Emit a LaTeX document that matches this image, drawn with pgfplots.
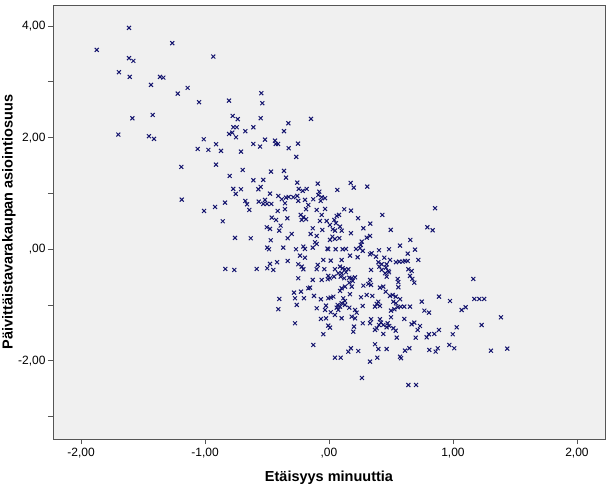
\documentclass[border=0pt]{standalone}
\usepackage{pgfplots}
\pgfplotsset{compat=1.18}
\usepackage{pgfplotstable}
\usepackage{fontspec}
\setmainfont{Liberation Sans}
\definecolor{markc}{RGB}{20,20,110}
\definecolor{framec}{RGB}{85,85,85}
\definecolor{bgc}{RGB}{240,240,240}
\pgfplotstableread{
x y
-1.613 3.966
-1.264 3.692
-1.873 3.572
-1.613 3.423
-1.578 3.375
-0.933 3.452
-1.694 3.172
-1.607 3.088
-1.363 3.088
-1.336 3.075
-1.435 2.945
-1.220 2.789
-1.140 2.891
-1.048 2.634
-1.586 2.348
-1.422 2.407
-1.699 2.054
-1.452 2.025
-1.411 1.977
-1.010 1.971
-1.059 1.797
-0.973 1.780
-1.191 1.475
-1.188 0.889
-1.008 0.686
-0.546 2.796
-0.538 2.616
-0.806 2.663
-0.777 2.389
-0.736 2.330
-0.551 2.348
-0.772 2.186
-0.744 2.186
-0.806 2.066
-0.780 2.090
-0.750 2.007
-0.675 2.115
-0.610 2.186
-0.363 2.115
-0.328 2.258
-0.911 1.882
-0.871 1.762
-0.710 1.749
-0.610 1.887
-0.556 1.839
-0.516 1.964
-0.435 1.946
-0.430 1.887
-0.411 1.887
-0.325 1.810
-0.911 1.516
-0.696 1.421
-0.801 1.314
-0.468 1.391
-0.363 1.403
-0.347 1.283
-0.610 1.237
-0.530 1.242
-0.772 1.081
-0.710 1.075
-0.752 0.991
-0.570 1.075
-0.551 1.116
-0.476 0.996
-0.409 0.955
-0.381 0.896
-0.347 0.925
-0.325 0.937
-0.919 0.758
-0.839 0.835
-0.675 0.866
-0.661 0.806
-0.643 0.704
-0.567 0.853
-0.516 0.884
-0.530 0.812
-0.500 0.812
-0.465 0.812
-0.355 0.824
-0.414 0.686
-0.355 0.717
-0.857 0.502
-0.462 0.566
-0.427 0.525
-0.336 0.556
-0.502 0.394
-0.476 0.364
-0.390 0.423
-0.401 0.333
-0.758 0.203
-0.631 0.197
-0.470 0.161
-0.333 0.197
-0.498 0.029
-0.484 0.000
-0.369 0.029
-0.333 -0.210
-0.476 -0.263
-0.419 -0.233
-0.836 -0.353
-0.764 -0.371
-0.583 -0.353
-0.498 -0.341
-0.449 -0.371
-0.401 -0.891
-0.409 -1.075
-0.145 2.335
-0.250 1.892
-0.264 1.654
-0.256 1.194
-0.091 1.176
0.175 1.188
0.199 1.104
0.067 1.063
-0.244 1.081
-0.212 1.045
-0.180 1.081
-0.256 0.955
-0.288 0.932
-0.078 1.032
-0.086 0.973
-0.059 0.932
-0.032 0.914
-0.127 0.896
-0.194 0.884
-0.248 0.866
-0.067 0.866
-0.167 0.794
-0.185 0.717
-0.099 0.704
-0.032 0.722
0.123 0.717
0.177 0.692
-0.228 0.615
-0.207 0.573
-0.059 0.615
0.062 0.597
0.081 0.615
0.234 0.556
-0.220 0.525
-0.185 0.538
-0.073 0.507
-0.019 0.507
0.043 0.525
0.056 0.466
0.008 0.435
0.089 0.405
-0.131 0.376
-0.054 0.346
0.030 0.358
0.048 0.333
0.102 0.333
0.277 0.376
0.177 0.287
-0.301 0.274
-0.148 0.274
-0.099 0.238
0.027 0.226
0.083 0.197
0.008 0.167
0.048 0.185
-0.113 0.125
-0.099 0.095
0.264 0.136
0.256 0.077
-0.266 0.000
-0.207 0.047
-0.194 0.005
-0.131 0.029
-0.006 0.000
-0.012 0.012
0.054 0.000
0.110 0.000
0.137 0.005
0.218 0.005
0.250 0.018
0.272 -0.030
-0.234 -0.115
-0.194 -0.151
0.169 -0.115
0.231 -0.143
-0.046 -0.192
0.014 -0.204
0.102 -0.192
-0.248 -0.269
-0.220 -0.312
-0.207 -0.358
-0.091 -0.281
-0.099 -0.358
-0.038 -0.358
0.048 -0.358
0.089 -0.312
0.110 -0.341
0.129 -0.358
0.156 -0.358
0.075 -0.430
0.102 -0.430
0.137 -0.412
-0.006 -0.478
0.008 -0.520
0.040 -0.491
0.094 -0.491
0.123 -0.520
0.164 -0.509
0.183 -0.520
0.210 -0.502
-0.248 -0.520
-0.131 -0.550
-0.059 -0.550
-0.010 -0.538
0.164 -0.599
0.191 -0.568
0.277 -0.652
-0.167 -0.699
-0.153 -0.688
0.102 -0.699
0.129 -0.670
0.183 -0.670
-0.282 -0.778
-0.226 -0.760
-0.121 -0.837
0.169 -0.806
0.089 -0.747
-0.274 -0.878
-0.202 -0.878
-0.065 -0.896
-0.006 -0.878
0.014 -0.867
0.035 -0.849
0.115 -0.878
0.129 -0.927
0.258 -0.860
-0.260 -0.998
-0.024 -1.011
0.070 -0.998
0.102 -0.968
0.129 -0.998
0.062 -1.047
0.089 -1.029
0.164 -1.047
0.272 -1.016
-0.099 -1.057
-0.032 -1.088
0.075 -1.088
0.210 -1.088
0.223 -1.136
0.014 -1.129
0.048 -1.177
0.183 -1.208
0.210 -1.237
-0.065 -1.249
-0.024 -1.237
0.102 -1.237
0.272 -1.326
-0.274 -1.326
-0.006 -1.369
0.008 -1.405
0.202 -1.387
0.196 -1.477
-0.046 -1.523
-0.127 -1.715
0.177 -1.774
0.156 -1.835
0.236 -1.823
0.048 -1.943
0.094 -1.943
0.266 -2.306
0.309 1.122
0.855 0.735
0.430 0.615
0.333 0.459
0.498 0.346
0.793 0.394
0.836 0.341
0.331 0.238
0.304 0.208
0.656 0.167
0.573 0.065
0.403 -0.018
0.484 0.000
0.694 -0.007
0.635 -0.079
0.331 -0.090
0.344 -0.072
0.379 -0.133
0.446 -0.151
0.492 -0.192
0.720 -0.192
0.540 -0.233
0.567 -0.222
0.594 -0.222
0.613 -0.210
0.635 -0.210
0.398 -0.233
0.425 -0.269
0.465 -0.269
0.406 -0.312
0.460 -0.330
0.339 -0.371
0.425 -0.371
0.478 -0.389
0.640 -0.358
0.667 -0.389
0.452 -0.430
0.484 -0.412
0.653 -0.478
0.672 -0.532
0.688 -0.599
0.554 -0.532
0.559 -0.591
0.465 -0.491
0.331 -0.550
0.339 -0.640
0.317 -0.622
0.438 -0.670
0.411 -0.688
0.559 -0.681
0.304 -0.819
0.349 -0.837
0.457 -0.760
0.492 -0.837
0.514 -0.819
0.538 -0.849
0.573 -0.896
0.398 -0.939
0.385 -0.980
0.411 -1.016
0.371 -1.029
0.519 -0.939
0.540 -0.968
0.554 -1.039
0.578 -1.029
0.607 -1.029
0.653 -1.029
0.527 -1.075
0.500 -1.100
0.748 -0.939
0.769 -1.100
0.806 -1.136
0.887 -0.849
0.500 -1.219
0.607 -1.249
0.339 -1.254
0.331 -1.326
0.411 -1.254
0.419 -1.315
0.403 -1.357
0.438 -1.357
0.473 -1.326
0.486 -1.375
0.465 -1.398
0.519 -1.416
0.538 -1.459
0.385 -1.416
0.371 -1.446
0.438 -1.518
0.667 -1.344
0.688 -1.315
0.734 -1.375
0.715 -1.446
0.699 -1.584
0.546 -1.584
0.806 -1.523
0.849 -1.518
0.788 -1.577
0.887 -1.446
0.371 -1.703
0.398 -1.787
0.465 -1.787
0.613 -1.817
0.648 -1.774
0.809 -1.805
0.860 -1.835
0.877 -1.774
0.573 -1.925
0.581 -1.953
0.390 -1.943
0.331 -2.014
0.640 -2.432
0.702 -2.432
1.164 -0.532
0.976 -0.927
1.172 -0.891
1.212 -0.891
1.252 -0.891
1.070 -1.088
1.102 -1.039
1.387 -1.219
1.231 -1.357
1.030 -1.398
0.998 -1.523
0.970 -1.715
1.010 -1.774
1.306 -1.817
1.438 -1.781
}\pts
\begin{document}
\begin{tikzpicture}
\useasboundingbox (0,0) rectangle (611pt,488pt);
\begin{axis}[
  at={(53pt,49pt)}, anchor=south west,
  scale only axis, width=552pt, height=434pt,
  xmin=-2.226, xmax=2.226, ymin=-3.40, ymax=4.376,
  axis background/.style={fill=bgc},
  axis line style={framec, line width=0.9pt},
  every tick/.style={framec, line width=0.9pt},
  tick align=outside, major tick length=5pt,
  xtick pos=bottom, ytick pos=left,
  xtick={-2,-1,0,1,2},
  xticklabels={{-2,00},{-1,00},{,00},{1,00},{2,00}},
  ytick={-3,-2,-1,0,1,2,3,4},
  yticklabels={{},{-2,00},{},{,00},{},{2,00},{},{4,00}},
  tick label style={font=\fontsize{12}{14}\selectfont, text=black},
  xticklabel style={yshift=-1pt},
  yticklabel style={xshift=1pt},
  xlabel={Etäisyys minuuttia},
  ylabel={Päivittäistavarakaupan asiointiosuus},
  label style={font=\bfseries\fontsize{14.5}{16}\selectfont},
  xlabel style={at={(axis description cs:0.5,0)}, anchor=center, yshift=-39pt},
  ylabel style={at={(axis description cs:0,0.5)}, anchor=center, yshift=44pt},
  clip=true,
]
\addplot[only marks, mark=x, mark size=2.8pt, mark options={markc, line width=1pt}] table[x=x,y=y] {\pts};
\end{axis}
\end{tikzpicture}
\end{document}
